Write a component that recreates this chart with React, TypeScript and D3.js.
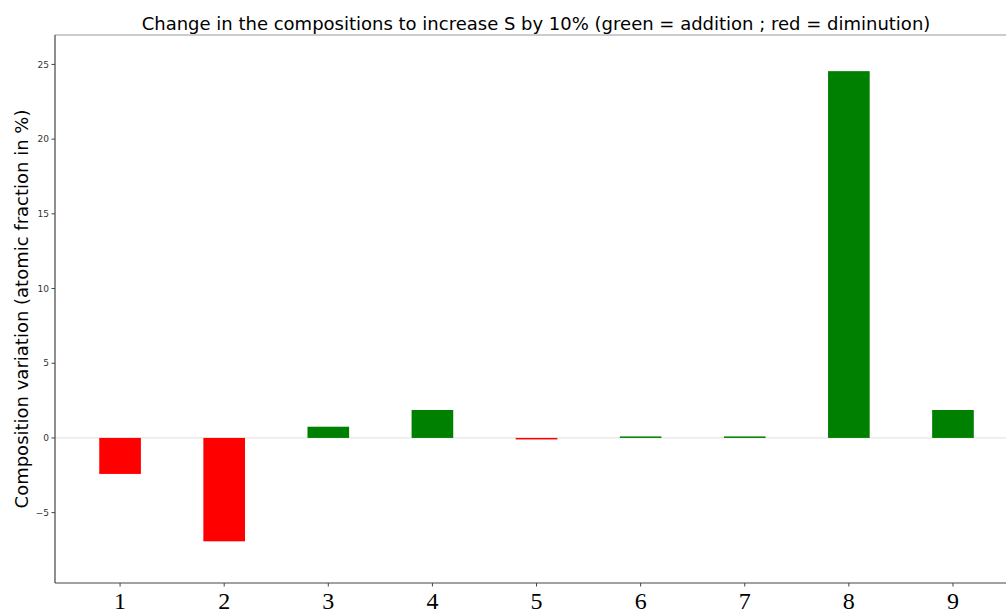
import React from "react";
import * as d3 from "d3";

const categories = [1, 2, 3, 4, 5, 6, 7, 8, 9];
const values = [-2.41, -6.92, 0.75, 1.87, -0.05, 0.1, 0.1, 24.55, 1.87];
const yTicks = [-5, 0, 5, 10, 15, 20, 25];
const title = "Change in the compositions to increase S by 10% (green = addition ; red = diminution)";
const yLabel = "Composition variation (atomic fraction in %)";

const W = 1006;
const H = 613;
const left = 55;
const right = 1017;
const top = 35;
const bottom = 583;

export default function App() {
  const x = d3.scaleLinear().domain([0.375, 9.615]).range([left, right]);
  const y = d3.scaleLinear().domain([-9.71, 26.97]).range([bottom, top]);
  const bw = x(1.4) - x(1);
  return (
    <svg width={W} height={H} style={{ position: "absolute", left: 0, top: 0, background: "#fff" }}>
      <text x={(left + right) / 2} y={30} textAnchor="middle" fontFamily="DejaVu Sans" fontSize={18} fill="#000">{title}</text>
      <line x1={left} x2={right} y1={y(0)} y2={y(0)} stroke="#e6e6e6" strokeWidth={1.2} />
      {values.map((v, i) => (
        <rect key={i} x={x(categories[i]) - bw / 2} width={bw}
          y={Math.min(y(0), y(v))} height={Math.max(Math.abs(y(v) - y(0)), 1.5)}
          fill={v >= 0 ? "#008000" : "#ff0000"} />
      ))}
      <line x1={left} x2={right} y1={top} y2={top} stroke="#999" strokeWidth={1.2} />
      <line x1={left} x2={left} y1={top} y2={bottom} stroke="#444" strokeWidth={1.2} />
      <line x1={left} x2={right} y1={bottom} y2={bottom} stroke="#444" strokeWidth={1.2} />
      {yTicks.map((t) => (
        <g key={t}>
          <line x1={left - 3.5} x2={left} y1={y(t)} y2={y(t)} stroke="#444" />
          <text x={left - 6} y={y(t)} dy="0.35em" textAnchor="end" fontFamily="DejaVu Sans" fontSize={9} fill="#333">
            {t < 0 ? "\u2212" + Math.abs(t) : t}
          </text>
        </g>
      ))}
      {categories.map((c) => (
        <g key={c}>
          <line x1={x(c)} x2={x(c)} y1={bottom} y2={bottom + 3.5} stroke="#444" />
          <text x={x(c)} y={bottom + 26} textAnchor="middle" fontFamily="Liberation Serif" fontSize={24} fill="#000">{c}</text>
        </g>
      ))}
      <text transform={`translate(28, ${(top + bottom) / 2}) rotate(-90)`} textAnchor="middle" fontFamily="DejaVu Sans" fontSize={18} fill="#000">{yLabel}</text>
    </svg>
  );
}
